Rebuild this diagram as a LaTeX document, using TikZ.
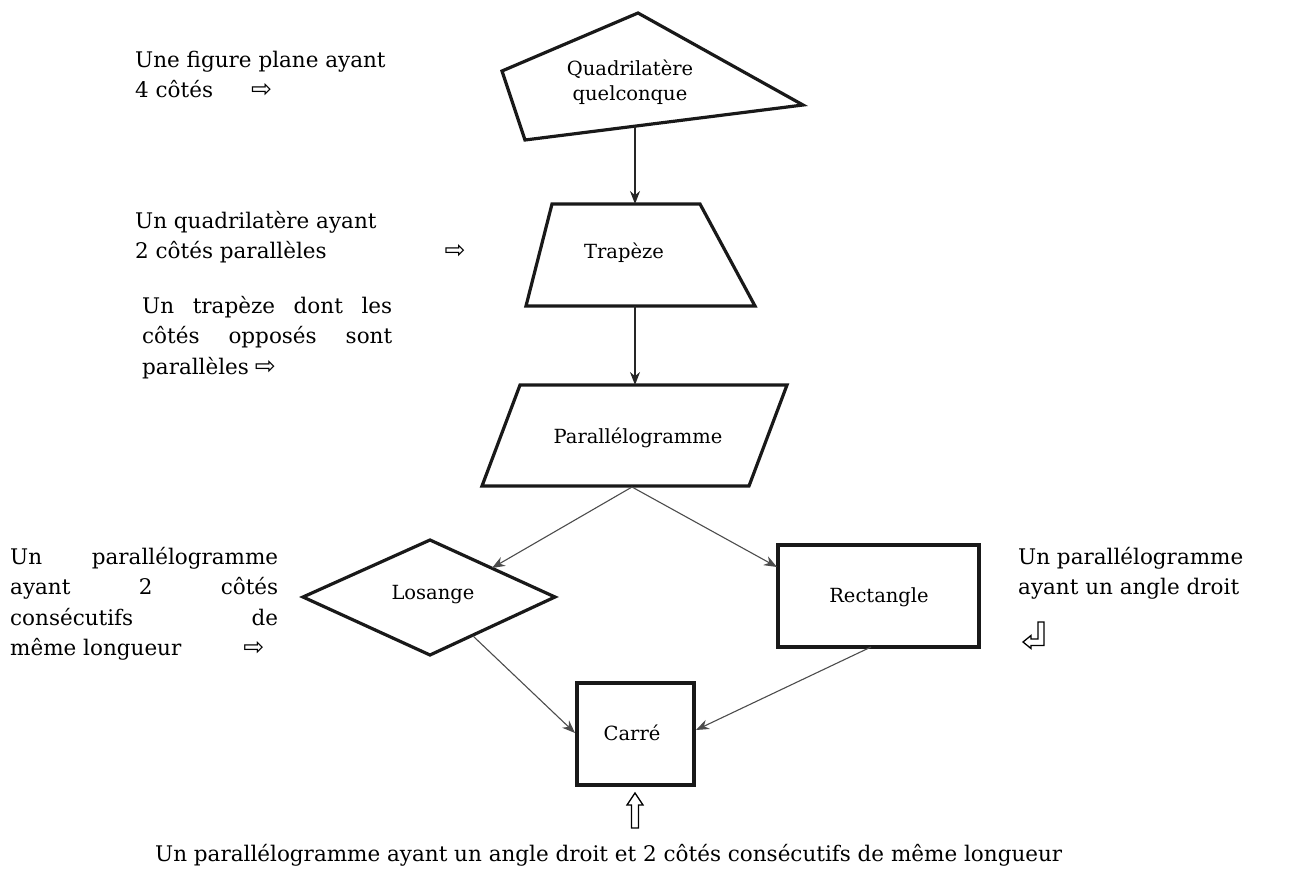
\documentclass[tikz,border=0pt]{standalone}
\usepackage{fontspec}
\setmainfont{DejaVu Serif}
\newfontfamily\symfont{DejaVu Sans}
\newcommand{\rarr}{{\symfont\fontsize{25}{25}\selectfont ⇨}}
\usetikzlibrary{arrows.meta}
\begin{document}
\begin{tikzpicture}[x=1pt,y=-1pt,
  shapeline/.style={line width=3.2pt, line join=miter, draw=black!90},
  conn/.style={line width=1.3pt, draw=black!85, -{Stealth[length=13pt,width=10pt]}},
  dconn/.style={line width=1.1pt, draw=black!70, -{Stealth[length=13pt,width=10pt]}},
  lbl/.style={font=\fontsize{19.5}{25}\selectfont, align=center, inner sep=0pt},
  txt/.style={font=\fontsize{21.5}{30.5}\selectfont, inner sep=0pt, anchor=base west, align=left}]
\useasboundingbox (0,0) rectangle (1299,870);
% shapes
\coordinate (qT) at (638,13); \coordinate (qR) at (803,105);
\coordinate (qB) at (525,140); \coordinate (qL) at (502,71);
\draw[shapeline] (qT)--(qR)--(qB)--(qL)--cycle;
\node[lbl] (quad) at (630,82) {Quadrilatère\\quelconque};

\coordinate (tA) at (552,204); \coordinate (tB) at (700,204);
\coordinate (tC) at (755,306); \coordinate (tD) at (526,306);
\draw[shapeline] (tA)--(tB)--(tC)--(tD)--cycle;
\node[lbl] (trap) at (624,253) {Trapèze};

\coordinate (pA) at (520,385); \coordinate (pB) at (787,385);
\coordinate (pC) at (749,486); \coordinate (pD) at (482,486);
\draw[shapeline] (pA)--(pB)--(pC)--(pD)--cycle;
\node[lbl] (para) at (638,438) {Parallélogramme};

\coordinate (lT) at (430,540); \coordinate (lR) at (555,597);
\coordinate (lB) at (430,655); \coordinate (lL) at (303,597);
\draw[shapeline] (lT)--(lR)--(lB)--(lL)--cycle;
\node[lbl] (los) at (433,595) {Losange};

\draw[shapeline] (778,545) rectangle (979,647);
\node[lbl] (rect) at (879,597) {Rectangle};

\draw[shapeline] (577,683) rectangle (694,785);
\node[lbl] (carre) at (632,733) {Carré};

% connectors
\coordinate (q1) at (635,126); \coordinate (t1) at (635,204);
\coordinate (t2) at (635,306); \coordinate (p1) at (635,385);
\coordinate (p2) at (632,487); \coordinate (l1) at (492,568);
\coordinate (r1) at (777,567); \coordinate (l2) at (473,636);
\coordinate (c1) at (575,733); \coordinate (r2) at (871,647);
\coordinate (c2) at (696,730);
\draw[conn] (q1) -- (t1);
\draw[conn] (t2) -- (p1);
\draw[dconn] (p2) -- (l1);
\draw[dconn] (p2) -- (r1);
\draw[dconn] (l2) -- (c1);
\draw[dconn] (r2) -- (c2);

% texts (base = last line)
\node[txt] (d1) at (135,97.5) {Une figure plane ayant\\4 côtés\hspace{38pt}\rarr};
\node[txt] (d2) at (135,258.5) {Un quadrilatère ayant\\2 côtés parallèles\hspace{118pt}\rarr};
\node[txt] (d3) at (142,374) {\makebox[250pt][s]{Un trapèze dont les}\\\makebox[250pt][s]{côtés opposés sont}\\parallèles\hspace{6pt}\rarr};
\node[txt] (d4) at (10,655.5) {\makebox[268pt][s]{Un parallélogramme}\\\makebox[268pt][s]{ayant 2 côtés}\\\makebox[268pt][s]{consécutifs de}\\même longueur\hspace{62pt}\rarr};
\node[txt] (d5) at (1018,594.5) {Un parallélogramme\\ayant un angle droit};
\node[txt] (d6) at (155,861) {Un parallélogramme ayant un angle droit et 2 côtés consécutifs de même longueur};

% outlined arrows
\draw[line width=1.3pt, line join=miter] (1038,622) -- (1044,622) -- (1044,645.5) -- (1031,645.5) -- (1031,648.5) -- (1023,642) -- (1031,635.5) -- (1031,639) -- (1038,639) -- cycle;
\draw[line width=1.3pt, line join=miter] (635,793) -- (643,805) -- (638.5,805) -- (638.5,828) -- (631.5,828) -- (631.5,805) -- (627,805) -- cycle;
\end{tikzpicture}
\end{document}
